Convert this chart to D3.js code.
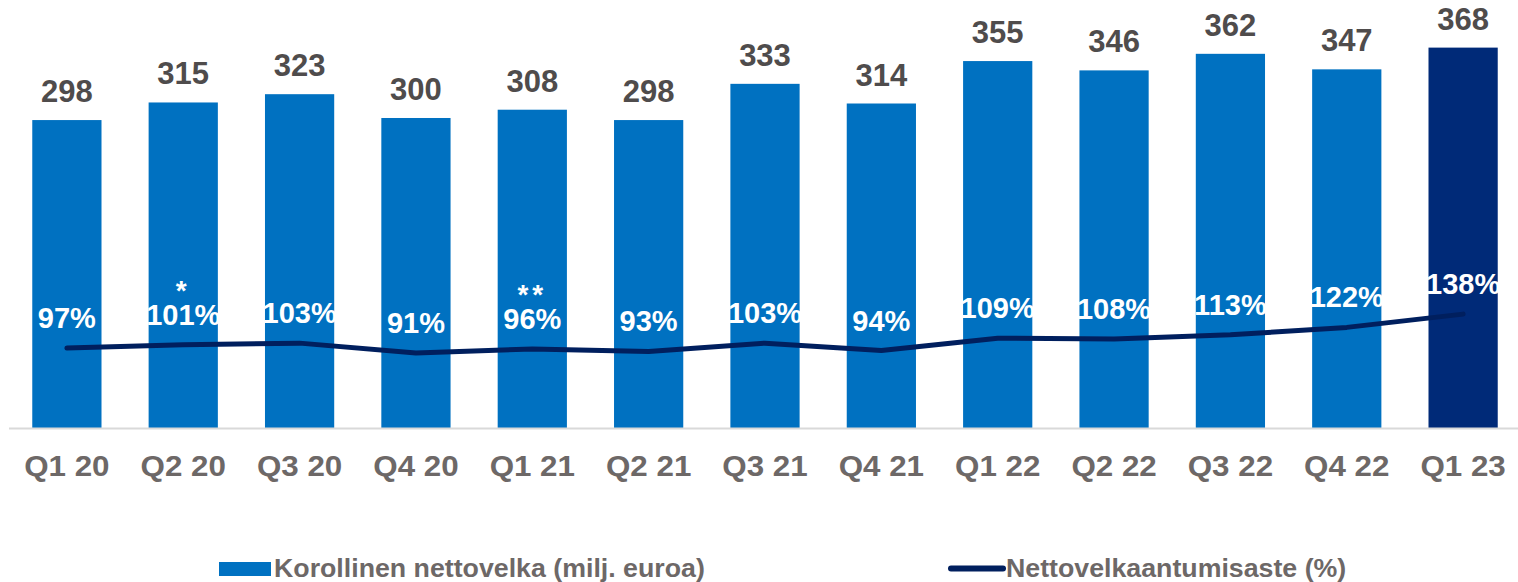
<!DOCTYPE html>
<html>
<head>
<meta charset="utf-8">
<script src="https://cdn.jsdelivr.net/npm/d3@7"></script>
<style>
  body { margin: 0; background: #fff; }
  svg { display: block; font-family: "Liberation Sans", Arial, sans-serif; }
</style>
</head>
<body>
<svg id="chart" width="1518" height="582"></svg>
<script>
// quarters on the x axis
const quarters = ["Q1 20", "Q2 20", "Q3 20", "Q4 20", "Q1 21", "Q2 21", "Q3 21",
                  "Q4 21", "Q1 22", "Q2 22", "Q3 22", "Q4 22", "Q1 23"];
// interest bearing net debt, MEUR
const net_debt = [298, 315, 323, 300, 308, 298, 333, 314, 355, 346, 362, 347, 368];
// gearing, %
const gearing = [97, 101, 103, 91, 96, 93, 103, 94, 109, 108, 113, 122, 138];
// footnote marks above some gearing labels
const footnotes = ["", "*", "", "", "**", "", "", "", "", "", "", "", ""];

const bar_blue = "#0071c1";
const bar_navy = "#002a78";
const line_navy = "#001f5e";
const value_gray = "#4f4c4c";
const axis_gray = "#6d6867";

const svg = d3.select("#chart");
const baseline = 428.5;

const xScale = d3.scaleBand()
    .domain(quarters)
    .range([9, 1521])
    .paddingInner(0.405)
    .paddingOuter(0.2);

// bars use left axis, line uses right (hidden) axis
const yScale = d3.scaleLinear().domain([0, 414]).range([baseline, 0]);
const y2Scale = d3.scaleLinear().domain([0, 517]).range([baseline, 0]);

const cx = q => xScale(q) + xScale.bandwidth() / 2;

// bars
svg.append("g").selectAll("rect")
    .data(net_debt)
    .join("rect")
    .attr("x", (d, i) => xScale(quarters[i]))
    .attr("y", d => yScale(d))
    .attr("width", xScale.bandwidth())
    .attr("height", d => baseline - yScale(d))
    .attr("fill", (d, i) => i === quarters.length - 1 ? bar_navy : bar_blue);

// x axis, the labels are a bit wider than the font in the original
const xAxis = svg.append("g")
    .attr("transform", `translate(0,${baseline})`)
    .call(d3.axisBottom(xScale).tickSize(0).tickPadding(27));
xAxis.select(".domain").attr("stroke", "#d9d9d9").attr("stroke-width", 2)
    .attr("d", `M9,0H1518`);
xAxis.selectAll("text")
    .attr("font-size", "29px")
    .attr("font-weight", "bold")
    .attr("fill", axis_gray)
    .attr("transform", "scale(1.08,1)")
    .attr("font-family", "Liberation Sans, Arial, sans-serif");

// value labels above bars
svg.append("g").selectAll("text")
    .data(net_debt)
    .join("text")
    .attr("x", (d, i) => cx(quarters[i]))
    .attr("y", d => yScale(d) - 18)
    .attr("text-anchor", "middle")
    .attr("font-size", "31px")
    .attr("font-weight", "bold")
    .attr("fill", value_gray)
    .text(d => d);

// gearing line
const line_generator = d3.line()
    .x((d, i) => cx(quarters[i]))
    .y(d => y2Scale(d));

svg.append("path")
    .attr("d", line_generator(gearing))
    .attr("fill", "none")
    .attr("stroke", line_navy)
    .attr("stroke-width", 5)
    .attr("stroke-linecap", "round")
    .attr("stroke-linejoin", "round");

// gearing labels
svg.append("g").selectAll("text")
    .data(gearing)
    .join("text")
    .attr("x", (d, i) => cx(quarters[i]))
    .attr("y", d => y2Scale(d) - 20)
    .attr("text-anchor", "middle")
    .attr("font-size", "29px")
    .attr("font-weight", "bold")
    .attr("fill", "#ffffff")
    .text(d => d + "%");

// footnote asterisks
svg.append("g").selectAll("text")
    .data(footnotes)
    .join("text")
    .attr("x", (d, i) => cx(quarters[i]))
    .attr("y", (d, i) => y2Scale(gearing[i]) - 45)
    .attr("text-anchor", "middle")
    .attr("font-size", "28px")
    .attr("font-weight", "bold")
    .attr("fill", "#ffffff")
    .attr("letter-spacing", "4px")
    .text(d => d);

// legend
const legend = svg.append("g");
legend.append("rect")
    .attr("x", 219).attr("y", 562)
    .attr("width", 52).attr("height", 14)
    .attr("fill", bar_blue);
legend.append("text")
    .attr("transform", "translate(274,577) scale(1.07,1)")
    .attr("font-size", "25px").attr("font-weight", "bold")
    .attr("fill", axis_gray)
    .text("Korollinen nettovelka (milj. euroa)");

legend.append("line")
    .attr("x1", 951).attr("x2", 1003)
    .attr("y1", 568.5).attr("y2", 568.5)
    .attr("stroke", line_navy)
    .attr("stroke-width", 6)
    .attr("stroke-linecap", "round");
legend.append("text")
    .attr("transform", "translate(1006,577) scale(1.07,1)")
    .attr("font-size", "25px").attr("font-weight", "bold")
    .attr("fill", axis_gray)
    .text("Nettovelkaantumisaste (%)");
</script>
</body>
</html>
